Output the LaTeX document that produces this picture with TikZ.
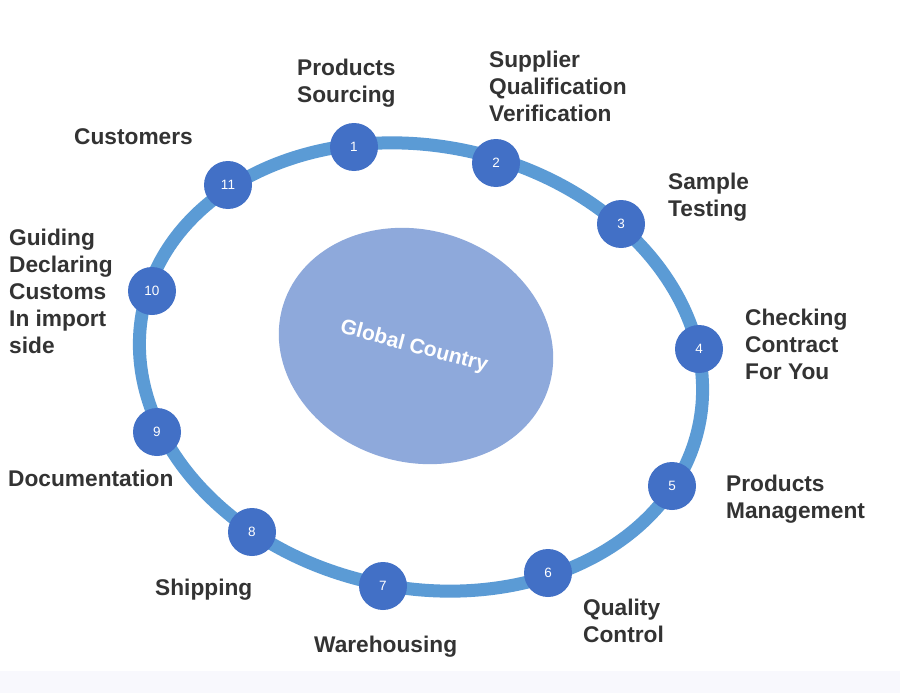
\documentclass[tikz,border=0pt]{standalone}
\usepackage{fontspec}
\setmainfont{Liberation Sans}
\definecolor{ringblue}{HTML}{5B9BD5}
\definecolor{nodeblue}{HTML}{4270C6}
\definecolor{coreblue}{HTML}{8EA9DB}
\definecolor{labelgray}{HTML}{333333}
\definecolor{bandgray}{HTML}{F8F8FD}
\tikzset{
  stepdot/.style={circle, fill=nodeblue, draw=none, minimum size=48pt, inner sep=0pt,
    text=white, font=\fontsize{13.5}{14}\selectfont},
  lbl/.style={anchor=base west, inner sep=0pt, text=labelgray,
    font=\bfseries\fontsize{22.7}{27}\selectfont},
  coretext/.style={text=white, font=\bfseries\fontsize{21}{24}\selectfont, inner sep=0pt}
}
\begin{document}
\begin{tikzpicture}[x=1pt, y=-1pt]
\useasboundingbox (0,0) rectangle (900,693);
\fill[white] (0,0) rectangle (900,693);
\fill[bandgray] (0,671) rectangle (900,693);
% ring
\draw[ringblue, line width=13pt, rotate around={-12:(421,367)}] (421,367) ellipse [x radius=284, y radius=221];
% core
\fill[coreblue, rotate around={-17:(416,346)}] (416,346) ellipse [x radius=139, y radius=116];
\node[coretext, rotate=-15] (core) at (414,347) {Global Country};
% step nodes
\node[stepdot] (n1) at (354,147) {1};
\node[stepdot] (n2) at (496,163) {2};
\node[stepdot] (n3) at (621,224) {3};
\node[stepdot] (n4) at (699,349) {4};
\node[stepdot] (n5) at (672,486) {5};
\node[stepdot] (n6) at (548,573) {6};
\node[stepdot] (n7) at (383,586) {7};
\node[stepdot] (n8) at (252,532) {8};
\node[stepdot] (n9) at (157,432) {9};
\node[stepdot] (n10) at (152,291) {10};
\node[stepdot] (n11) at (228,185) {11};
% labels
\node[lbl] (l1) at (297,76) {\vtop{\hbox{Products}\hbox{Sourcing}}};
\node[lbl] (l2) at (489,68) {\vtop{\hbox{Supplier}\hbox{Qualification}\hbox{Verification}}};
\node[lbl] (l3) at (668,189) {\vtop{\hbox{Sample}\hbox{Testing}}};
\node[lbl] (l4) at (745,325) {\vtop{\hbox{Checking}\hbox{Contract}\hbox{For You}}};
\node[lbl] (l5) at (726,491) {\vtop{\hbox{Products}\hbox{Management}}};
\node[lbl] (l6) at (583,615) {\vtop{\hbox{Quality}\hbox{Control}}};
\node[lbl] (l7) at (314,652) {Warehousing};
\node[lbl] (l8) at (155,595) {Shipping};
\node[lbl] (l9) at (8,486) {Documentation};
\node[lbl] (l10) at (9,245) {\vtop{\hbox{Guiding}\hbox{Declaring}\hbox{Customs}\hbox{In import}\hbox{side}}};
\node[lbl] (l11) at (74,144) {Customers};
\end{tikzpicture}
\end{document}
